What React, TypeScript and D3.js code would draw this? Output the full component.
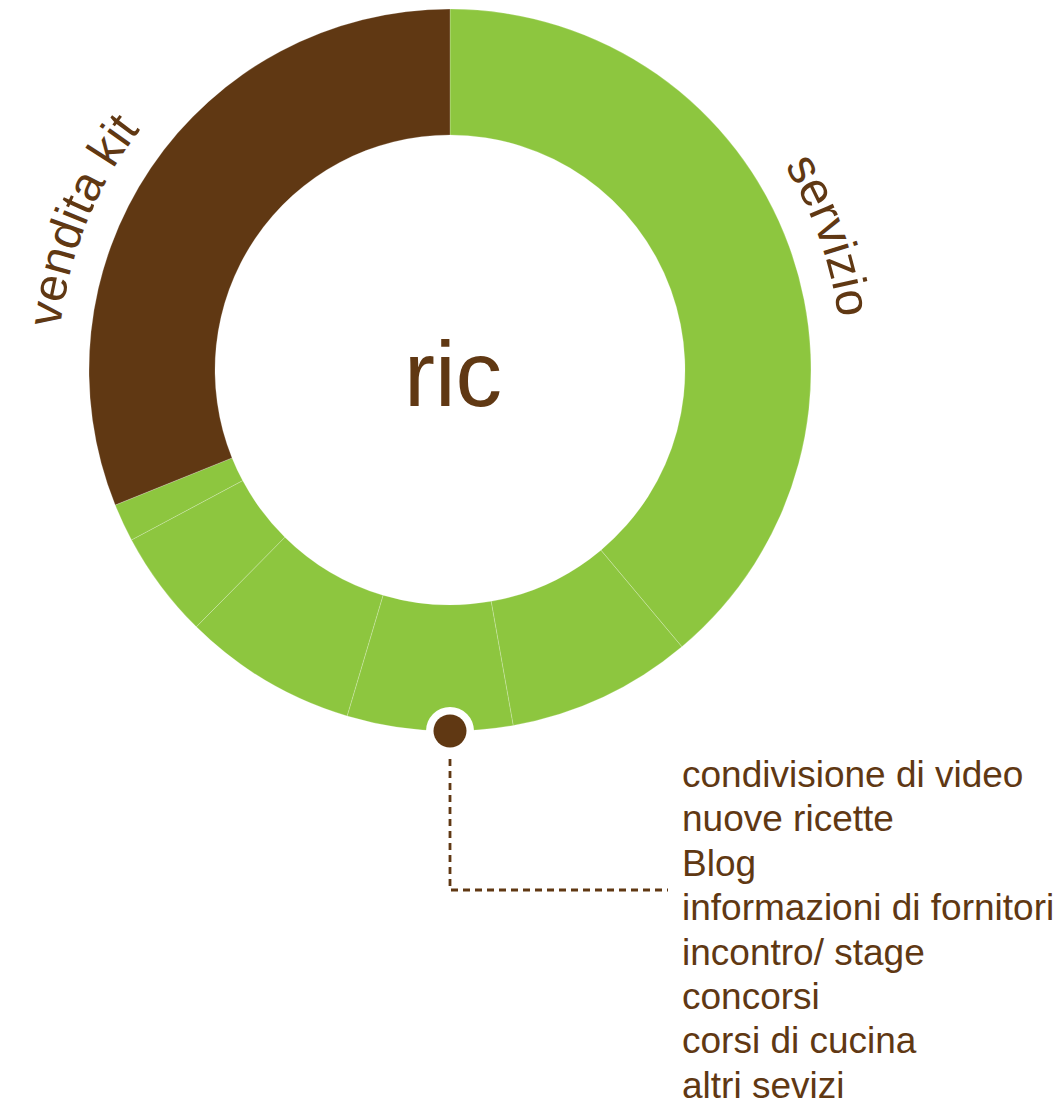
import React, { useEffect, useRef } from "react";
import * as d3 from "d3";

// ---- data ----
const centerLabel = "ric";
const groupNames = ["servizio", "vendita kit"];
const groupColors = ["#8DC63F", "#603813"];
// ring segments (value in % of the whole ring), in clockwise order from 12 o'clock
const segmentGroups = [0, 0, 0, 0, 0, 0, 1];
const segmentValues = [38.9, 8.3, 7.4, 7.8, 4.8, 1.7, 31.1];
// angular centre (degrees, clockwise from 12 o'clock) of each group label
const groupLabelAngles = [70.5, 292];
// pointer position (degrees) and listed services
const pointerAngle = 180;
const serviceList = [
  "condivisione di video",
  "nuove ricette",
  "Blog",
  "informazioni di fornitori",
  "incontro/ stage",
  "concorsi",
  "corsi di cucina",
  "altri sevizi",
];

const W = 1061;
const H = 1109;
const FONT = "'Liberation Sans', Arial, Helvetica, sans-serif";
const BROWN = "#603813";

export default function App() {
  const ref = useRef<SVGSVGElement | null>(null);

  useEffect(() => {
    const svg = d3.select(ref.current);
    svg.selectAll("*").remove();

    const cx = 450;
    const cy = 370;
    const rOuter = 361;
    const rInner = 235;
    const g = svg.append("g").attr("transform", `translate(${cx},${cy})`);

    const pie = d3
      .pie<number>()
      .value((d) => d)
      .sort(null);
    const arcs = pie(segmentValues);
    const arc = d3.arc<d3.PieArcDatum<number>>().innerRadius(rInner).outerRadius(rOuter);

    g.selectAll("path.seg")
      .data(arcs)
      .enter()
      .append("path")
      .attr("class", "seg")
      .attr("d", arc as any)
      .attr("fill", (_d, i) => groupColors[segmentGroups[i]])
      .attr("stroke", "rgba(255,255,255,0.28)")
      .attr("stroke-width", 0.8);

    // group labels along arcs
    const toRad = (deg: number) => (deg * Math.PI) / 180;
    const labelR = 392;
    const labelSize = 48;
    groupNames.forEach((name, i) => {
      const mid = toRad(groupLabelAngles[i]);
      const a0 = mid - Math.PI / 3;
      const a1 = mid + Math.PI / 3;
      const p0 = [labelR * Math.sin(a0), -labelR * Math.cos(a0)];
      const p1 = [labelR * Math.sin(a1), -labelR * Math.cos(a1)];
      const id = `lbl-path-${i}`;
      g.append("path")
        .attr("id", id)
        .attr("d", `M${p0[0]},${p0[1]} A${labelR},${labelR} 0 0 1 ${p1[0]},${p1[1]}`)
        .attr("fill", "none");
      g.append("text")
        .attr("font-family", FONT)
        .attr("font-size", labelSize)
        .attr("fill", BROWN)
        .append("textPath")
        .attr("href", `#${id}`)
        .attr("startOffset", "50%")
        .attr("text-anchor", "middle")
        .text(name);
    });

    // centre label
    g.append("text")
      .attr("x", 3)
      .attr("y", 36)
      .attr("text-anchor", "middle")
      .attr("font-family", FONT)
      .attr("font-size", 93)
      .attr("fill", BROWN)
      .text(centerLabel);

    // pointer
    const pa = toRad(pointerAngle);
    const px = cx + rOuter * Math.sin(pa);
    const py = cy - rOuter * Math.cos(pa);
    const listX = 682;
    const listY0 = 787;
    const listStep = 44.4;
    const elbowY = 890;

    svg
      .append("path")
      .attr("d", `M${px},${py + 16} L${px},${elbowY} L${listX - 14},${elbowY}`)
      .attr("fill", "none")
      .attr("stroke", BROWN)
      .attr("stroke-width", 2.8)
      .attr("stroke-dasharray", "7,5");

    svg.append("circle").attr("cx", px).attr("cy", py).attr("r", 24).attr("fill", "#fff");
    svg.append("circle").attr("cx", px).attr("cy", py).attr("r", 16.5).attr("fill", BROWN);

    svg
      .append("g")
      .selectAll("text")
      .data(serviceList)
      .enter()
      .append("text")
      .attr("x", listX)
      .attr("y", (_d, i) => listY0 + i * listStep)
      .attr("font-family", FONT)
      .attr("font-size", 37)
      .attr("fill", BROWN)
      .text((d) => d);
  }, []);

  return (
    <svg
      ref={ref}
      width={W}
      height={H}
      style={{ position: "absolute", left: 0, top: 0, background: "#fff" }}
    />
  );
}
